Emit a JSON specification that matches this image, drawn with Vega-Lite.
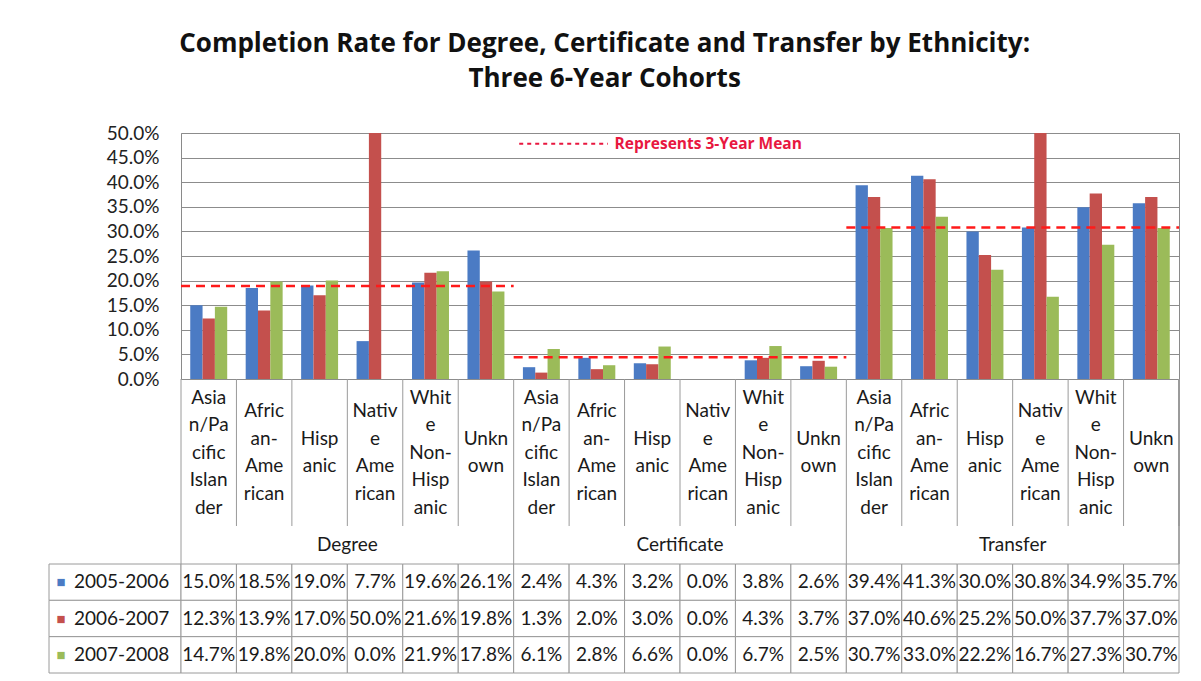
{
"$schema":"https://vega.github.io/schema/vega-lite/v6.json",
"padding":{"left":48,"top":30,"right":20,"bottom":4},
"background":"white",
"title":{"text":["Completion Rate for Degree, Certificate and Transfer by Ethnicity:","Three 6-Year Cohorts"],"font":"Open Sans","fontSize":26,"fontWeight":"bold","lineHeight":35,"anchor":"middle","offset":32,"color":"#111111","dx":-10},
"config":{"view":{"stroke":null},"font":"Lato","text":{"font":"Lato","color":"#1a1a1a"},"concat":{"spacing":0}},
"datasets":{
"main":[
{"cat":"Degree","eth":"Asian/Pacific Islander","series":"2005-2006","v":0.150},
{"cat":"Degree","eth":"African-American","series":"2005-2006","v":0.185},
{"cat":"Degree","eth":"Hispanic","series":"2005-2006","v":0.190},
{"cat":"Degree","eth":"Native American","series":"2005-2006","v":0.077},
{"cat":"Degree","eth":"White Non-Hispanic","series":"2005-2006","v":0.196},
{"cat":"Degree","eth":"Unknown","series":"2005-2006","v":0.261},
{"cat":"Certificate","eth":"Asian/Pacific Islander","series":"2005-2006","v":0.024},
{"cat":"Certificate","eth":"African-American","series":"2005-2006","v":0.043},
{"cat":"Certificate","eth":"Hispanic","series":"2005-2006","v":0.032},
{"cat":"Certificate","eth":"Native American","series":"2005-2006","v":0.0},
{"cat":"Certificate","eth":"White Non-Hispanic","series":"2005-2006","v":0.038},
{"cat":"Certificate","eth":"Unknown","series":"2005-2006","v":0.026},
{"cat":"Transfer","eth":"Asian/Pacific Islander","series":"2005-2006","v":0.394},
{"cat":"Transfer","eth":"African-American","series":"2005-2006","v":0.413},
{"cat":"Transfer","eth":"Hispanic","series":"2005-2006","v":0.300},
{"cat":"Transfer","eth":"Native American","series":"2005-2006","v":0.308},
{"cat":"Transfer","eth":"White Non-Hispanic","series":"2005-2006","v":0.349},
{"cat":"Transfer","eth":"Unknown","series":"2005-2006","v":0.357},
{"cat":"Degree","eth":"Asian/Pacific Islander","series":"2006-2007","v":0.123},
{"cat":"Degree","eth":"African-American","series":"2006-2007","v":0.139},
{"cat":"Degree","eth":"Hispanic","series":"2006-2007","v":0.170},
{"cat":"Degree","eth":"Native American","series":"2006-2007","v":0.500},
{"cat":"Degree","eth":"White Non-Hispanic","series":"2006-2007","v":0.216},
{"cat":"Degree","eth":"Unknown","series":"2006-2007","v":0.198},
{"cat":"Certificate","eth":"Asian/Pacific Islander","series":"2006-2007","v":0.013},
{"cat":"Certificate","eth":"African-American","series":"2006-2007","v":0.020},
{"cat":"Certificate","eth":"Hispanic","series":"2006-2007","v":0.030},
{"cat":"Certificate","eth":"Native American","series":"2006-2007","v":0.0},
{"cat":"Certificate","eth":"White Non-Hispanic","series":"2006-2007","v":0.043},
{"cat":"Certificate","eth":"Unknown","series":"2006-2007","v":0.037},
{"cat":"Transfer","eth":"Asian/Pacific Islander","series":"2006-2007","v":0.370},
{"cat":"Transfer","eth":"African-American","series":"2006-2007","v":0.406},
{"cat":"Transfer","eth":"Hispanic","series":"2006-2007","v":0.252},
{"cat":"Transfer","eth":"Native American","series":"2006-2007","v":0.500},
{"cat":"Transfer","eth":"White Non-Hispanic","series":"2006-2007","v":0.377},
{"cat":"Transfer","eth":"Unknown","series":"2006-2007","v":0.370},
{"cat":"Degree","eth":"Asian/Pacific Islander","series":"2007-2008","v":0.147},
{"cat":"Degree","eth":"African-American","series":"2007-2008","v":0.198},
{"cat":"Degree","eth":"Hispanic","series":"2007-2008","v":0.200},
{"cat":"Degree","eth":"Native American","series":"2007-2008","v":0.0},
{"cat":"Degree","eth":"White Non-Hispanic","series":"2007-2008","v":0.219},
{"cat":"Degree","eth":"Unknown","series":"2007-2008","v":0.178},
{"cat":"Certificate","eth":"Asian/Pacific Islander","series":"2007-2008","v":0.061},
{"cat":"Certificate","eth":"African-American","series":"2007-2008","v":0.028},
{"cat":"Certificate","eth":"Hispanic","series":"2007-2008","v":0.066},
{"cat":"Certificate","eth":"Native American","series":"2007-2008","v":0.0},
{"cat":"Certificate","eth":"White Non-Hispanic","series":"2007-2008","v":0.067},
{"cat":"Certificate","eth":"Unknown","series":"2007-2008","v":0.025},
{"cat":"Transfer","eth":"Asian/Pacific Islander","series":"2007-2008","v":0.307},
{"cat":"Transfer","eth":"African-American","series":"2007-2008","v":0.330},
{"cat":"Transfer","eth":"Hispanic","series":"2007-2008","v":0.222},
{"cat":"Transfer","eth":"Native American","series":"2007-2008","v":0.167},
{"cat":"Transfer","eth":"White Non-Hispanic","series":"2007-2008","v":0.273},
{"cat":"Transfer","eth":"Unknown","series":"2007-2008","v":0.307}
],
"labels":[
{"cat":"Degree","eth":"Asian/Pacific Islander","wrap":"Asia\nn/Pa\ncific\nIslan\nder"},
{"cat":"Degree","eth":"African-American","wrap":"Afric\nan-\nAme\nrican"},
{"cat":"Degree","eth":"Hispanic","wrap":"Hisp\nanic"},
{"cat":"Degree","eth":"Native American","wrap":"Nativ\ne\nAme\nrican"},
{"cat":"Degree","eth":"White Non-Hispanic","wrap":"Whit\ne\nNon-\nHisp\nanic"},
{"cat":"Degree","eth":"Unknown","wrap":"Unkn\nown"},
{"cat":"Certificate","eth":"Asian/Pacific Islander","wrap":"Asia\nn/Pa\ncific\nIslan\nder"},
{"cat":"Certificate","eth":"African-American","wrap":"Afric\nan-\nAme\nrican"},
{"cat":"Certificate","eth":"Hispanic","wrap":"Hisp\nanic"},
{"cat":"Certificate","eth":"Native American","wrap":"Nativ\ne\nAme\nrican"},
{"cat":"Certificate","eth":"White Non-Hispanic","wrap":"Whit\ne\nNon-\nHisp\nanic"},
{"cat":"Certificate","eth":"Unknown","wrap":"Unkn\nown"},
{"cat":"Transfer","eth":"Asian/Pacific Islander","wrap":"Asia\nn/Pa\ncific\nIslan\nder"},
{"cat":"Transfer","eth":"African-American","wrap":"Afric\nan-\nAme\nrican"},
{"cat":"Transfer","eth":"Hispanic","wrap":"Hisp\nanic"},
{"cat":"Transfer","eth":"Native American","wrap":"Nativ\ne\nAme\nrican"},
{"cat":"Transfer","eth":"White Non-Hispanic","wrap":"Whit\ne\nNon-\nHisp\nanic"},
{"cat":"Transfer","eth":"Unknown","wrap":"Unkn\nown"}
],
"means":[
{"cat":"Degree","first":"Degree|Asian/Pacific Islander","last":"Degree|Unknown","mean":0.189},
{"cat":"Certificate","first":"Certificate|Asian/Pacific Islander","last":"Certificate|Unknown","mean":0.044},
{"cat":"Transfer","first":"Transfer|Asian/Pacific Islander","last":"Transfer|Unknown","mean":0.308}
],
"cats":[{"cat":"Degree"},{"cat":"Certificate"},{"cat":"Transfer"}],
"series":[{"series":"2005-2006"},{"series":"2006-2007"},{"series":"2007-2008"}],
"note":[{"note":"Represents 3-Year Mean"}]
},
"bounds":"flush",
"spacing":0,
"columns":2,
"concat":[
 {"width":132,"height":246,"data":{"values":[]},"mark":"point","encoding":{}},
 {"width":998,"height":246,"view":{"stroke":"#8a8a8a"},
  "layer":[
   {"data":{"name":"main"},"transform":[{"calculate":"datum.cat + '|' + datum.eth","as":"key"}],
    "mark":{"type":"bar"},
    "encoding":{
     "x":{"field":"key","type":"nominal","scale":{"type":"band","domain":["Degree|Asian/Pacific Islander","Degree|African-American","Degree|Hispanic","Degree|Native American","Degree|White Non-Hispanic","Degree|Unknown","Certificate|Asian/Pacific Islander","Certificate|African-American","Certificate|Hispanic","Certificate|Native American","Certificate|White Non-Hispanic","Certificate|Unknown","Transfer|Asian/Pacific Islander","Transfer|African-American","Transfer|Hispanic","Transfer|Native American","Transfer|White Non-Hispanic","Transfer|Unknown"],"paddingInner":0,"paddingOuter":0},"axis":null},
     "xOffset":{"field":"series","type":"nominal","scale":{"domain":["2005-2006","2006-2007","2007-2008"],"paddingInner":0,"paddingOuter":0.75}},
     "y":{"field":"v","type":"quantitative","scale":{"domain":[0,0.5],"nice":false},
      "axis":{"values":[0,0.05,0.1,0.15,0.2,0.25,0.3,0.35,0.4,0.45,0.5],"tickCount":11,"labelOverlap":false,"format":".1%","title":null,"grid":true,"gridColor":"#8c8c8c","ticks":false,"domain":false,"labelFontSize":19,"labelColor":"#222222","labelPadding":22,"labelFont":"Lato"}},
     "color":{"field":"series","type":"nominal","scale":{"domain":["2005-2006","2006-2007","2007-2008"],"range":["#4B7BC4","#C4504D","#9BBB59"]},"legend":null}
    }},
   {"data":{"name":"means"},
    "mark":{"type":"rule","color":"#FF1A1A","strokeWidth":2.5,"strokeDash":[9,6]},
    "encoding":{"x":{"field":"first","type":"nominal","bandPosition":0},"x2":{"field":"last","bandPosition":1},"y":{"field":"mean","type":"quantitative"}}},
   {"data":{"name":"note"},
    "mark":{"type":"rule","color":"#E8173F","strokeWidth":2,"strokeDash":[4,4]},
    "encoding":{"x":{"datum":"Certificate|Asian/Pacific Islander","type":"nominal","bandPosition":0.1},"x2":{"datum":"Certificate|African-American","bandPosition":0.7},"y":{"datum":0.478,"type":"quantitative"}}},
   {"data":{"name":"note"},
    "mark":{"type":"text","align":"left","baseline":"middle","font":"Open Sans","fontSize":15.5,"fontWeight":"bold","color":"#E8173F"},
    "encoding":{"x":{"datum":"Certificate|African-American","type":"nominal","bandPosition":0.82},"y":{"datum":0.478,"type":"quantitative"},"text":{"field":"note"}}}
  ]},
 {"width":132,"height":147,"data":{"values":[]},"mark":"point","encoding":{}},
 {"width":998,"height":147,"data":{"name":"labels"},"transform":[{"calculate":"datum.cat + '|' + datum.eth","as":"key"},{"calculate":"length(split(datum.wrap, '\\n'))","as":"n"}],
  "layer":[
   {"mark":{"type":"rule","color":"#9a9a9a"},"encoding":{"x":{"field":"key","type":"nominal","scale":{"type":"band","domain":["Degree|Asian/Pacific Islander","Degree|African-American","Degree|Hispanic","Degree|Native American","Degree|White Non-Hispanic","Degree|Unknown","Certificate|Asian/Pacific Islander","Certificate|African-American","Certificate|Hispanic","Certificate|Native American","Certificate|White Non-Hispanic","Certificate|Unknown","Transfer|Asian/Pacific Islander","Transfer|African-American","Transfer|Hispanic","Transfer|Native American","Transfer|White Non-Hispanic","Transfer|Unknown"],"paddingInner":0,"paddingOuter":0},"bandPosition":0,"axis":null}}},
   {"mark":{"type":"rule","color":"#9a9a9a"},"encoding":{"x":{"datum":"Transfer|Unknown","type":"nominal","bandPosition":1}}},
   {"transform":[{"filter":"datum.n == 5"}],"mark":{"type":"text","fontSize":19,"lineBreak":"\n","lineHeight":27.5,"baseline":"middle","dy":-55},"encoding":{"x":{"field":"key","type":"nominal"},"text":{"field":"wrap"}}},
   {"transform":[{"filter":"datum.n == 4"}],"mark":{"type":"text","fontSize":19,"lineBreak":"\n","lineHeight":27.5,"baseline":"middle","dy":-41.25},"encoding":{"x":{"field":"key","type":"nominal"},"text":{"field":"wrap"}}},
   {"transform":[{"filter":"datum.n == 2"}],"mark":{"type":"text","fontSize":19,"lineBreak":"\n","lineHeight":27.5,"baseline":"middle","dy":-13.75},"encoding":{"x":{"field":"key","type":"nominal"},"text":{"field":"wrap"}}}
  ]},
 {"width":132,"height":38,"data":{"values":[]},"mark":"point","encoding":{}},
 {"width":998,"height":38,"data":{"name":"cats"},
  "layer":[
   {"mark":{"type":"rule","color":"#9a9a9a"},"encoding":{"x":{"field":"cat","type":"nominal","scale":{"type":"band","domain":["Degree","Certificate","Transfer"],"paddingInner":0,"paddingOuter":0},"bandPosition":0,"axis":null}}},
   {"mark":{"type":"rule","color":"#9a9a9a"},"encoding":{"x":{"datum":"Transfer","type":"nominal","bandPosition":1}}},
   {"mark":{"type":"text","fontSize":19,"baseline":"middle"},"encoding":{"x":{"field":"cat","type":"nominal"},"text":{"field":"cat"}}}
  ]},
 {"width":132,"height":109,"data":{"name":"series"},"layer":[
  {"mark":{"type":"rect","fill":"white","stroke":"#9a9a9a","strokeWidth":1},
   "encoding":{"y":{"field":"series","type":"nominal","axis":null,"scale":{"domain":["2005-2006","2006-2007","2007-2008"],"paddingInner":0,"paddingOuter":0}}}},
  {"mark":{"type":"text","text":"■","fontSize":15,"dx":-54,"baseline":"middle"},
   "encoding":{"y":{"field":"series","type":"nominal"},
    "color":{"field":"series","type":"nominal","scale":{"domain":["2005-2006","2006-2007","2007-2008"],"range":["#4B7BC4","#C4504D","#9BBB59"]},"legend":null}}},
  {"mark":{"type":"text","align":"left","dx":-41,"fontSize":19,"baseline":"middle"},
   "encoding":{"y":{"field":"series","type":"nominal"},"text":{"field":"series"}}}
 ]},
 {"width":998,"height":109,"data":{"name":"main"},"transform":[{"calculate":"datum.cat + '|' + datum.eth","as":"key"}],
  "layer":[
   {"mark":{"type":"rect","fill":"white","stroke":"#9a9a9a","strokeWidth":1},
    "encoding":{"x":{"field":"key","type":"nominal","scale":{"type":"band","domain":["Degree|Asian/Pacific Islander","Degree|African-American","Degree|Hispanic","Degree|Native American","Degree|White Non-Hispanic","Degree|Unknown","Certificate|Asian/Pacific Islander","Certificate|African-American","Certificate|Hispanic","Certificate|Native American","Certificate|White Non-Hispanic","Certificate|Unknown","Transfer|Asian/Pacific Islander","Transfer|African-American","Transfer|Hispanic","Transfer|Native American","Transfer|White Non-Hispanic","Transfer|Unknown"],"paddingInner":0,"paddingOuter":0},"axis":null},
     "y":{"field":"series","type":"nominal","scale":{"domain":["2005-2006","2006-2007","2007-2008"],"paddingInner":0,"paddingOuter":0},"axis":null}}},
   {"mark":{"type":"text","fontSize":19,"baseline":"middle"},
    "encoding":{"x":{"field":"key","type":"nominal"},"y":{"field":"series","type":"nominal"},"text":{"field":"v","format":".1%"}}}
  ]}
]
}
